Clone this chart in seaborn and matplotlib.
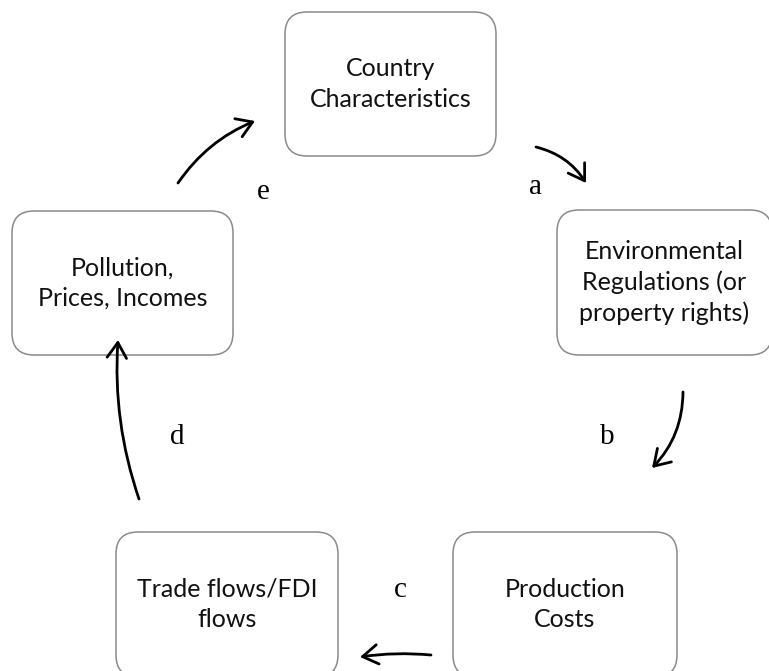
import matplotlib
matplotlib.use("Agg")
import matplotlib.pyplot as plt
import seaborn as sns
from matplotlib.patches import FancyBboxPatch, FancyArrowPatch

# ---- data (diagram content) ----
box_labels = ["Country\nCharacteristics",
              "Environmental\nRegulations (or\nproperty rights)",
              "Production\nCosts",
              "Trade flows/FDI\nflows",
              "Pollution,\nPrices, Incomes"]
link_labels = ["a", "b", "c", "d", "e"]

# ---- layout (pixel-like coordinates, y downward) ----
box_x0 = [285, 557, 453, 116, 12]
box_y0 = [12, 210, 532, 532, 211]
box_w = [211, 215, 224, 222, 221]
box_h = [144, 145, 145, 145, 144]

arrow_start = [(536, 147), (683, 392), (431, 655), (139, 499), (178, 183)]
arrow_end = [(586, 183), (652, 468), (360, 657), (118, 340), (255, 121)]
arrow_rad = [-0.2, -0.2, 0.06, -0.1, -0.15]
label_pos = [(535, 187), (607, 437), (400, 590), (177, 437), (263, 192)]

sns.set_theme(style="white")
plt.rcParams['font.family'] = ['Lato', 'DejaVu Sans']

fig, ax = plt.subplots(figsize=(7.69, 6.71), dpi=100)
fig.subplots_adjust(0, 0, 1, 1)
ax.set_xlim(0, 769)
ax.set_ylim(671, 0)
ax.set_axis_off()

for lab, x0, y0, w, h in zip(box_labels, box_x0, box_y0, box_w, box_h):
    p = FancyBboxPatch((x0, y0), w, h, boxstyle="round,pad=0,rounding_size=22",
                       fc="white", ec="#8a8a8a", lw=1.1)
    ax.add_patch(p)
    ax.text(x0 + w / 2, y0 + h / 2, lab, ha="center", va="center",
            fontsize=18, color="#111111", linespacing=1.4)

for s, e, r in zip(arrow_start, arrow_end, arrow_rad):
    a = FancyArrowPatch(s, e, connectionstyle=f"arc3,rad={r}",
                        arrowstyle="->,head_length=11,head_width=7",
                        color="black", lw=2.0, shrinkA=0, shrinkB=0)
    ax.add_patch(a)

for t, (x, y) in zip(link_labels, label_pos):
    ax.text(x, y, t, ha="center", va="center", fontsize=21,
            family=["Liberation Serif"], color="black")

fig.savefig("out.png", dpi=100)
